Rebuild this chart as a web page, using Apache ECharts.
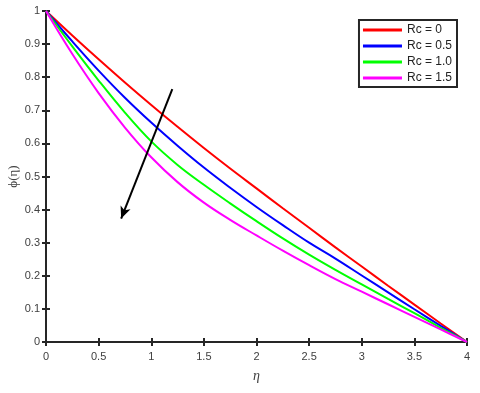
<!DOCTYPE html>
<html>
<head>
<meta charset="utf-8">
<script src="https://cdn.jsdelivr.net/npm/echarts@6/dist/echarts.min.js"></script>
<style>
  html, body { margin: 0; padding: 0; background: #fff; }
  #main { width: 480px; height: 393px; }
</style>
</head>
<body>
<div id="main"></div>
<script>
// eta values along the x axis
var etas = [0, 0.25, 0.5, 0.75, 1, 1.25, 1.5, 1.75, 2, 2.25, 2.5, 2.75, 3, 3.25, 3.5, 3.75, 4];

// phi(eta) for each Rc
var rc0  = [1, 0.926, 0.854, 0.784, 0.716, 0.650, 0.586, 0.524, 0.464, 0.404, 0.345, 0.286, 0.228, 0.170, 0.113, 0.056, 0];
var rc05 = [1, 0.908, 0.820, 0.738, 0.663, 0.593, 0.527, 0.466, 0.408, 0.353, 0.300, 0.252, 0.201, 0.150, 0.099, 0.049, 0];
var rc10 = [1, 0.893, 0.790, 0.693, 0.606, 0.535, 0.475, 0.419, 0.365, 0.313, 0.264, 0.218, 0.174, 0.130, 0.087, 0.043, 0];
var rc15 = [1, 0.870, 0.752, 0.648, 0.558, 0.483, 0.421, 0.369, 0.322, 0.276, 0.232, 0.190, 0.152, 0.114, 0.076, 0.038, 0];

var names = ['Rc = 0', 'Rc = 0.5', 'Rc = 1.0', 'Rc = 1.5'];
var colors = ['#ff0000', '#0000ff', '#00ff00', '#ff00ff'];

// arrow showing increasing Rc (data coords)
var arrowFrom = [1.2, 0.764];
var arrowTo = [0.714, 0.373];

function pairs(ys) {
    return etas.map(function (x, i) { return [x, ys[i]]; });
}

var axisCol = '#262626';
var labelCol = '#404040';

var myChart = echarts.init(document.getElementById('main'));
var allData = [rc0, rc05, rc10, rc15];
var series = allData.map(function (ys, i) {
    return {
        name: names[i],
        type: 'line',
        data: pairs(ys),
        smooth: 0.4,
        showSymbol: false,
        lineStyle: { color: colors[i], width: 2 },
        itemStyle: { color: colors[i] },
        z: 3
    };
});
series[0].markLine = {
    silent: true,
    symbol: ['none', 'arrow'],
    symbolSize: [8, 12],
    label: { show: false },
    lineStyle: { color: '#000', width: 2, type: 'solid' },
    data: [[{ coord: arrowFrom }, { coord: arrowTo }]]
};

var option = {
    animation: false,
    grid: { left: 46, right: 13, top: 11, bottom: 51, show: false, outerBoundsMode: 'none', containLabel: false },
    legend: {
        orient: 'vertical',
        right: 23,
        top: 20,
        data: names,
        icon: 'rect',
        itemWidth: 39,
        itemHeight: 3,
        itemGap: 4,
        itemTextGap: 5,
        padding: [4, 5, 3, 4],
        borderColor: axisCol,
        borderWidth: 2,
        backgroundColor: '#fff',
        textStyle: { color: '#222', fontSize: 12, fontFamily: 'Arial, Liberation Sans', lineHeight: 12 }
    },
    xAxis: [{
        type: 'value', min: 0, max: 4, interval: 0.5,
        name: 'η', nameLocation: 'middle', nameGap: 27, nameMoveOverlap: false,
        nameTextStyle: { fontFamily: 'Liberation Serif', fontStyle: 'italic', fontSize: 14, color: labelCol },
        axisLine: { lineStyle: { color: axisCol, width: 2 } },
        axisTick: { inside: true, length: 4, lineStyle: { color: axisCol, width: 2 } },
        axisLabel: { color: labelCol, fontSize: 11, fontFamily: 'Arial, Liberation Sans', margin: 9 },
        splitLine: { show: false }
    }, {
        type: 'value', min: 0, max: 4, interval: 0.5, position: 'top',
        axisLine: { lineStyle: { color: axisCol, width: 2 } },
        axisTick: { inside: true, length: 4, lineStyle: { color: axisCol, width: 2 } },
        axisLabel: { show: false },
        splitLine: { show: false }
    }],
    yAxis: [{
        type: 'value', min: 0, max: 1, interval: 0.1,
        name: 'ϕ(η)', nameLocation: 'middle', nameGap: 26, nameMoveOverlap: false,
        nameTextStyle: { fontFamily: 'Liberation Serif', fontSize: 13, color: labelCol },
        axisLine: { show: true, lineStyle: { color: axisCol, width: 2 } },
        axisTick: { show: true, inside: true, length: 4, lineStyle: { color: axisCol, width: 2 } },
        axisLabel: { color: labelCol, fontSize: 11, fontFamily: 'Arial, Liberation Sans', margin: 6 },
        splitLine: { show: false }
    }, {
        type: 'value', min: 0, max: 1, interval: 0.1, position: 'right',
        axisLine: { show: true, lineStyle: { color: axisCol, width: 2 } },
        axisTick: { show: true, inside: true, length: 4, lineStyle: { color: axisCol, width: 2 } },
        axisLabel: { show: false },
        splitLine: { show: false }
    }],
    series: series
};

myChart.setOption(option);
</script>
</body>
</html>
